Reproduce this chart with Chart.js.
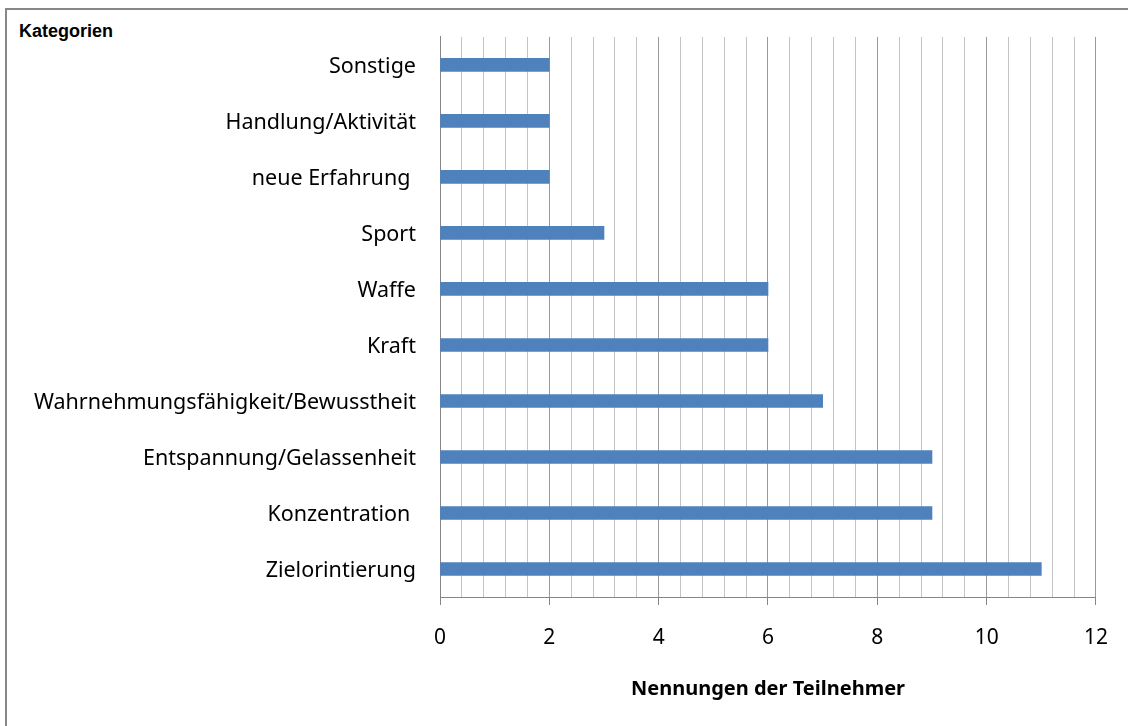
<!DOCTYPE html>
<html>
<head>
<meta charset="utf-8">
<script src="https://cdn.jsdelivr.net/npm/chart.js@4/dist/chart.umd.min.js"></script>
<style>
  html, body { margin: 0; padding: 0; background: #fff; overflow: hidden; }
  #wrap { position: relative; width: 1128px; height: 726px; }
  #frame { position: absolute; left: 5px; top: 8px; width: 1200px; height: 800px;
           border-left: 2px solid #878787; border-top: 2px solid #878787; }
  #katTitle { position: absolute; left: 19px; top: 21px; font: bold 18px "Liberation Sans", Arial, sans-serif; color: #000; }
  canvas { position: absolute; left: 0; top: 0; }
</style>
</head>
<body>
<div id="wrap">
  <div id="frame"></div>
  <div id="katTitle">Kategorien</div>
  <canvas id="chart" width="1128" height="726"></canvas>
</div>
<script>
const categories = [
    'Sonstige',
    'Handlung/Aktivität',
    'neue Erfahrung ',
    'Sport',
    'Waffe',
    'Kraft',
    'Wahrnehmungsfähigkeit/Bewusstheit',
    'Entspannung/Gelassenheit',
    'Konzentration ',
    'Zielorintierung'
];
const mentions = [2, 2, 2, 3, 6, 6, 7, 9, 9, 11];
const xMin = 0;
const xMax = 12;
const xLabelStep = 2;
const xGridStep = 0.4;

function isMajor(v) {
    return Math.abs(v / xLabelStep - Math.round(v / xLabelStep)) < 1e-6;
}

const ctx = document.getElementById('chart').getContext('2d');
new Chart(ctx, {
    type: 'bar',
    data: {
        labels: categories,
        datasets: [{
            label: 'Nennungen',
            data: mentions,
            backgroundColor: '#4F81BD',
            borderWidth: 0,
            barThickness: 13
        }]
    },
    options: {
        indexAxis: 'y',
        responsive: false,
        animation: false,
        layout: { padding: { top: 36, right: 32, left: 0, bottom: 0 } },
        plugins: {
            legend: { display: false },
            tooltip: { enabled: false }
        },
        scales: {
            x: {
                min: xMin,
                max: xMax,
                afterFit: scale => { scale.height = 129; },
                border: { display: true, color: '#868686', width: 1 },
                grid: {
                    color: c => isMajor(c.tick.value) ? '#9a9a9a' : '#c4c4c4',
                    tickColor: c => isMajor(c.tick.value) ? '#868686' : 'rgba(0,0,0,0)',
                    tickLength: 8,
                    lineWidth: 1
                },
                ticks: {
                    stepSize: xGridStep,
                    autoSkip: false,
                    maxRotation: 0,
                    padding: 20,
                    color: '#000',
                    font: { family: 'Noto Sans', size: 21 },
                    callback: v => isMajor(v) ? String(Math.round(v)) : ''
                },
                title: {
                    display: true,
                    text: 'Nennungen der Teilnehmer',
                    color: '#000',
                    font: { family: 'Noto Sans', size: 20, weight: 'bold' },
                    padding: { top: 0, bottom: 25 }
                }
            },
            y: {
                afterFit: scale => { scale.width = 440; },
                border: { display: true, color: '#868686', width: 1 },
                grid: { display: true, drawOnChartArea: false, drawTicks: false },
                ticks: {
                    padding: 24,
                    labelOffset: 2,
                    color: '#000',
                    font: { family: 'Noto Sans', size: 21.5 }
                }
            }
        }
    }
});
</script>
</body>
</html>
